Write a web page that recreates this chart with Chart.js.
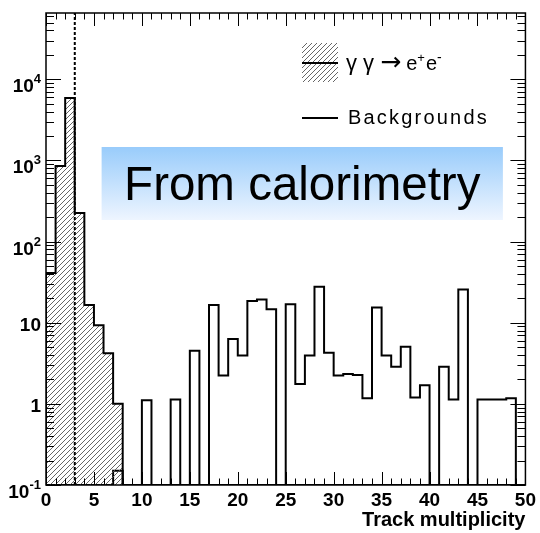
<!DOCTYPE html>
<html>
<head>
<meta charset="utf-8">
<script src="https://cdn.jsdelivr.net/npm/chart.js@4.4.1/dist/chart.umd.min.js"></script>
<style>
html,body{margin:0;padding:0;background:#fff;}
#wrap{width:540px;height:533px;}
</style>
</head>
<body>
<div id="wrap"><canvas id="c" width="540" height="533"></canvas></div>
<script>
// ---------------- data ----------------
const signalValues = [41, 850, 5860, 224, 16.5, 9.3, 4.2, 1.0,
  0,0,0,0,0,0,0,0,0,0, 0,0,0,0,0,0,0,0,0,0,
  0,0,0,0,0,0,0,0,0,0, 0,0,0,0,0,0,0,0,0,0, 0,0];
const backgroundValues = [0,0,0,0,0,0,0,0.15,0,0,
  1.11,0,0,1.13,0,4.5,0,16.5,2.24,6.3,
  3.95,18.5,19.3,14.6,0,16.9,1.75,3.95,27.7,4.26,
  2.24,2.33,2.27,1.17,15.4,3.95,2.86,5.05,1.2,1.7,
  0,2.86,1.13,25.7,0,1.13,1.13,1.13,1.17,0];
const xTickValues = [0,5,10,15,20,25,30,35,40,45,50];
const xTickLabels = ['0','5','10','15','20','25','30','35','40','45','50'];
const yTickValues = [0.1,1,10,100,1000,10000];
const yTickBases = ['10','1','10','10','10','10'];
const yTickExps  = ['-1','','','2','3','4'];
const legendLabels = ['γ γ → e+e-','Backgrounds'];
const xTitle = 'Track multiplicity';
const boxText = 'From calorimetry';
const cutValue = 3;
const xMin = 0, xMax = 50, yMin = 0.1, yMax = 65500;

// ---------------- helpers ----------------
function histPoints(vals){
  const pts = [{x: 0, y: yMin}];
  vals.forEach((v,i)=>pts.push({x: i, y: v > 0 ? v : yMin}));
  pts.push({x: vals.length, y: yMin});
  return pts;
}
const hatch = (function(){
  const s = 5;
  const c = document.createElement('canvas'); c.width = s; c.height = s;
  const g = c.getContext('2d');
  g.strokeStyle = '#555'; g.lineWidth = 0.9;
  g.beginPath();
  g.moveTo(0, s); g.lineTo(s, 0);
  g.moveTo(-1, 1); g.lineTo(1, -1);
  g.moveTo(s-1, s+1); g.lineTo(s+1, s-1);
  g.stroke();
  return document.createElement('canvas').getContext('2d').createPattern(c, 'repeat');
})();

const FONT = '"Liberation Sans", Arial, Helvetica, sans-serif';

const decor = {
  id: 'decor',
  afterDatasetsDraw(chart){
    const {ctx, chartArea: a, scales: {x, y}} = chart;
    ctx.save();
    // dotted cut line
    ctx.strokeStyle = '#000'; ctx.lineWidth = 2; ctx.setLineDash([3,2]);
    const cx = x.getPixelForValue(cutValue);
    ctx.beginPath(); ctx.moveTo(cx, a.bottom); ctx.lineTo(cx, a.top); ctx.stroke();
    ctx.setLineDash([]);
    // frame
    ctx.lineWidth = 1.5;
    ctx.strokeRect(a.left, a.top, a.right - a.left, a.bottom - a.top);
    // ticks x (inward, bottom & top)
    ctx.lineWidth = 1;
    ctx.beginPath();
    for (let v = xMin; v <= xMax; v++) {
      const px = Math.round(x.getPixelForValue(v)) + 0.5;
      const len = (v % 5 === 0) ? 13 : 6.5;
      ctx.moveTo(px, a.bottom); ctx.lineTo(px, a.bottom - len);
      ctx.moveTo(px, a.top); ctx.lineTo(px, a.top + len);
    }
    // ticks y (inward, left & right)
    for (let e = -1; e <= 5; e++) {
      for (let m = 1; m <= 9; m++) {
        const v = m * Math.pow(10, e);
        if (v < yMin || v > yMax) continue;
        const py = Math.round(y.getPixelForValue(v)) + 0.5;
        const len = (m === 1) ? 15 : 8;
        ctx.moveTo(a.left, py); ctx.lineTo(a.left + len, py);
        ctx.moveTo(a.right, py); ctx.lineTo(a.right - len, py);
      }
    }
    ctx.stroke();
    // y labels
    ctx.fillStyle = '#000';
    ctx.textBaseline = 'alphabetic'; ctx.textAlign = 'left';
    const R = a.left - 5;
    yTickValues.forEach((v,i)=>{
      const py = y.getPixelForValue(v);
      ctx.font = 'bold 19px ' + FONT;
      const bw = ctx.measureText(yTickBases[i]).width;
      if (yTickExps[i]) {
        ctx.font = 'bold 13px ' + FONT;
        const ew = ctx.measureText(yTickExps[i]).width;
        ctx.fillText(yTickExps[i], R - ew, py + 4);
        ctx.font = 'bold 19px ' + FONT;
        ctx.fillText(yTickBases[i], R - ew - bw, py + 13);
      } else {
        ctx.fillText(yTickBases[i], R - bw, py + 8.5);
      }
    });
    // annotation box
    const bx0 = a.left + (a.right - a.left) * 0.116, bx1 = a.left + (a.right - a.left) * 0.953;
    const by0 = 147, by1 = 220;
    const grd = ctx.createLinearGradient(0, by0, 0, by1);
    grd.addColorStop(0, '#99ccfb'); grd.addColorStop(1, '#eef5ff');
    ctx.fillStyle = grd;
    ctx.fillRect(bx0, by0, bx1 - bx0, by1 - by0);
    ctx.fillStyle = '#000';
    ctx.font = '47.5px ' + FONT; ctx.textAlign = 'center';
    ctx.fillText(boxText, (bx0 + bx1) / 2, 200);
    // legend
    ctx.textAlign = 'left';
    const lx0 = 302, lx1 = 338;
    ctx.fillStyle = hatch;
    ctx.fillRect(lx0, 43, lx1 - lx0, 39);
    ctx.strokeStyle = '#000'; ctx.lineWidth = 2;
    ctx.beginPath(); ctx.moveTo(lx0, 63); ctx.lineTo(lx1, 63); ctx.stroke();
    ctx.beginPath(); ctx.moveTo(lx0, 118); ctx.lineTo(lx1, 118); ctx.stroke();
    ctx.fillStyle = '#000';
    // rich label 1: γ γ → e+e-
    const lab = legendLabels[0];
    const iArrow = lab.indexOf('→');
    const iE = lab.indexOf('e');
    const parts = [
      [lab.slice(0, iArrow), '22px ' + FONT, 0, 0],
      ['→', '25px "DejaVu Sans", sans-serif', 0, 5],
      ['e', '20px ' + FONT, 0, 0],
      [lab.charAt(iE + 1), '13px ' + FONT, -8, 1],
      ['e', '20px ' + FONT, 0, 0],
      [lab.charAt(lab.length - 1), '14px ' + FONT, -8, 1]
    ];
    let tx = 346;
    parts.forEach(([t, font, dy, gap])=>{
      ctx.font = font;
      ctx.fillText(t, tx, 70 + dy);
      tx += ctx.measureText(t).width + gap;
    });
    ctx.font = '20px ' + FONT;
    try { ctx.letterSpacing = '2.2px'; } catch(e) {}
    ctx.fillText(legendLabels[1], 348, 124);
    try { ctx.letterSpacing = '0px'; } catch(e) {}
    ctx.restore();
  }
};

new Chart(document.getElementById('c'), {
  type: 'line',
  data: {
    datasets: [
      { label: legendLabels[0], data: histPoints(signalValues), stepped: true,
        borderColor: '#000', borderWidth: 2, backgroundColor: hatch, fill: 'start',
        pointRadius: 0 },
      { label: legendLabels[1], data: histPoints(backgroundValues), stepped: true,
        borderColor: '#000', borderWidth: 2, fill: false, pointRadius: 0 }
    ]
  },
  options: {
    responsive: false, animation: false, devicePixelRatio: 1,
    layout: { padding: { top: 13, right: 11, left: 0, bottom: 0 } },
    plugins: { legend: { display: false }, tooltip: { enabled: false } },
    scales: {
      x: {
        type: 'linear', min: xMin, max: xMax,
        grid: { display: false, drawTicks: false }, border: { display: false },
        afterBuildTicks: s => { s.ticks = xTickValues.map(v => ({ value: v })); },
        ticks: { autoSkip: false, maxRotation: 0, padding: 4, color: '#000',
          font: { family: FONT, weight: 'bold', size: 19 },
          callback: (v, i) => xTickLabels[i] },
        title: { display: true, text: xTitle, align: 'end', color: '#000',
          font: { family: FONT, weight: 'bold', size: 20 }, padding: { top: 0, bottom: 1 } },
        afterFit: s => { s.height = 48; }
      },
      y: {
        type: 'logarithmic', min: yMin, max: yMax,
        grid: { display: false, drawTicks: false }, border: { display: false },
        afterBuildTicks: s => { s.ticks = yTickValues.map(v => ({ value: v })); },
        ticks: { display: false },
        afterFit: s => { s.width = 46; }
      }
    }
  },
  plugins: [decor]
});
</script>
</body>
</html>
